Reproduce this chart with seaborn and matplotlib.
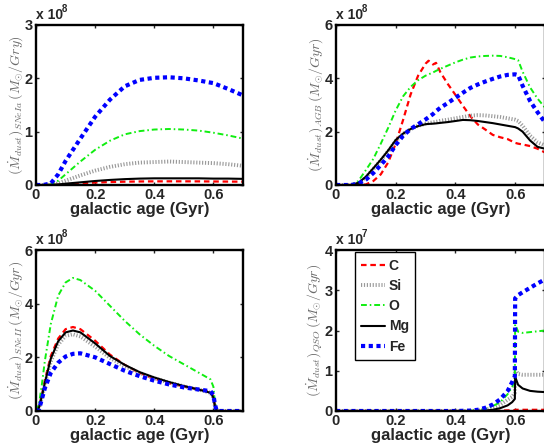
import numpy as np
import pandas as pd
import matplotlib
matplotlib.use("Agg")
import matplotlib.pyplot as plt
import seaborn as sns

sns.set_theme(style="ticks")
plt.rcParams.update({
    "font.family": ["Liberation Sans", "DejaVu Sans"],
    "font.weight": "bold",
    "mathtext.fontset": "cm",
    "xtick.direction": "in",
    "ytick.direction": "in",
    "xtick.top": True,
    "ytick.right": True,
    "axes.linewidth": 1.5,
})

# ---- data (values in units of the "x 10^n" multiplier) ----
elements = ["C", "Si", "O", "Mg", "Fe"]

# SNe Ia (x 1e8)
t_snia = [0, 0.025, 0.05, 0.075, 0.1, 0.15, 0.2, 0.25, 0.3, 0.35, 0.4, 0.45, 0.5, 0.55, 0.6, 0.65, 0.7]
snia_C = [0, 0, 0.001, 0.005, 0.015, 0.03, 0.045, 0.055, 0.062, 0.066, 0.068, 0.069, 0.069, 0.068, 0.066, 0.064, 0.062]
snia_Si = [0, 0, 0.005, 0.03, 0.08, 0.18, 0.27, 0.34, 0.39, 0.42, 0.43, 0.44, 0.43, 0.42, 0.41, 0.39, 0.36]
snia_O = [0, 0, 0.01, 0.08, 0.2, 0.44, 0.66, 0.83, 0.95, 1.01, 1.04, 1.05, 1.04, 1.02, 0.98, 0.93, 0.87]
snia_Mg = [0, 0, 0.002, 0.01, 0.025, 0.05, 0.075, 0.095, 0.11, 0.12, 0.125, 0.125, 0.125, 0.125, 0.12, 0.12, 0.115]
snia_Fe = [0, 0, 0.03, 0.2, 0.45, 0.87, 1.28, 1.6, 1.85, 1.97, 2.01, 2.02, 2.0, 1.96, 1.91, 1.8, 1.68]

# AGB (x 1e8)
t_agb = [0, 0.05, 0.075, 0.1, 0.125, 0.15, 0.175, 0.2, 0.225, 0.25, 0.275, 0.3, 0.31, 0.325, 0.335,
         0.35, 0.375, 0.4, 0.425, 0.45, 0.475, 0.5, 0.525, 0.55, 0.575, 0.6, 0.61, 0.625, 0.65, 0.675, 0.7]
agb_C = [0, 0, 0, 0.02, 0.15, 0.4, 0.85, 1.56, 2.45, 3.4, 4.1, 4.55, 4.66, 4.52, 4.58,
         4.22, 3.78, 3.38, 2.97, 2.58, 2.27, 2.08, 1.88, 1.79, 1.72, 1.58, 1.55, 1.52, 1.46, 1.36, 1.22]
agb_Si = [0, 0, 0.06, 0.28, 0.6, 0.92, 1.27, 1.65, 1.92, 2.1, 2.22, 2.3, 2.32, 2.35, 2.37,
          2.41, 2.45, 2.5, 2.55, 2.6, 2.62, 2.61, 2.58, 2.55, 2.5, 2.45, 2.4, 2.22, 1.85, 1.6, 1.48]
agb_O = [0, 0, 0.15, 0.56, 0.98, 1.55, 2.15, 2.8, 3.33, 3.68, 3.93, 4.1, 4.15, 4.22, 4.28,
         4.36, 4.48, 4.6, 4.7, 4.78, 4.82, 4.84, 4.85, 4.84, 4.79, 4.72, 4.68, 4.25, 3.66, 3.24, 2.9]
agb_Mg = [0, 0, 0.08, 0.31, 0.63, 0.95, 1.3, 1.69, 1.93, 2.1, 2.21, 2.28, 2.29, 2.3, 2.31,
          2.33, 2.36, 2.4, 2.44, 2.43, 2.4, 2.36, 2.32, 2.27, 2.22, 2.17, 2.12, 2.0, 1.67, 1.43, 1.36]
agb_Fe = [0, 0, 0.05, 0.2, 0.45, 0.75, 1.07, 1.5, 1.85, 2.1, 2.28, 2.46, 2.54, 2.66, 2.77,
          2.9, 3.08, 3.27, 3.46, 3.64, 3.77, 3.88, 3.98, 4.07, 4.13, 4.15, 4.12, 3.72, 3.15, 2.73, 2.35]

# SNe II (x 1e8)
t_snii = [0, 0.01, 0.02, 0.03, 0.05, 0.075, 0.1, 0.125, 0.15, 0.2, 0.25, 0.3, 0.35, 0.4,
          0.45, 0.5, 0.55, 0.59, 0.6, 0.605, 0.61, 0.62, 0.65, 0.7]
snii_C = [0, 0.15, 0.6, 1.15, 2.05, 2.7, 3.05, 3.13, 3.05, 2.62, 2.1, 1.72, 1.42, 1.2,
          1.03, 0.92, 0.8, 0.72, 0.55, 0.2, 0.02, 0, 0, 0]
snii_Si = [0, 0.1, 0.5, 0.98, 1.85, 2.48, 2.8, 2.86, 2.78, 2.4, 1.98, 1.67, 1.42, 1.22,
           1.06, 0.92, 0.8, 0.68, 0.5, 0.18, 0.02, 0, 0, 0]
snii_O = [0, 0.25, 1.0, 1.87, 3.24, 4.3, 4.79, 4.96, 4.88, 4.48, 3.92, 3.36, 2.86, 2.43,
          2.05, 1.74, 1.43, 1.18, 0.9, 0.3, 0.02, 0, 0, 0]
snii_Mg = [0, 0.12, 0.55, 1.05, 1.95, 2.6, 2.93, 3.0, 2.93, 2.52, 2.05, 1.72, 1.45, 1.25,
           1.08, 0.93, 0.8, 0.68, 0.5, 0.18, 0.02, 0, 0, 0]
snii_Fe = [0, 0.05, 0.45, 0.85, 1.42, 1.8, 2.03, 2.13, 2.15, 2.0, 1.75, 1.5, 1.3, 1.13,
           0.99, 0.88, 0.8, 0.74, 0.6, 0.25, 0.05, 0, 0, 0]

# QSO (x 1e7)
t_qso = [0, 0.1, 0.2, 0.3, 0.4, 0.45, 0.475, 0.5, 0.525, 0.55, 0.575, 0.59, 0.599, 0.6,
         0.61, 0.625, 0.65, 0.675, 0.7]
qso_C = [0, 0, 0, 0, 0, 0, 0, 0, 0.005, 0.01, 0.015, 0.02, 0.02, 0.03, 0.03, 0.03, 0.03, 0.03, 0.03]
qso_Si = [0, 0, 0, 0, 0, 0, 0.01, 0.03, 0.08, 0.15, 0.28, 0.35, 0.45, 1.02, 0.92, 0.9, 0.9, 0.9, 0.9]
qso_O = [0, 0, 0, 0, 0, 0.005, 0.02, 0.05, 0.12, 0.22, 0.42, 0.6, 0.75, 2.15, 1.97, 1.94, 1.96, 1.98, 2.0]
qso_Mg = [0, 0, 0, 0, 0, 0, 0, 0.01, 0.03, 0.07, 0.14, 0.22, 0.3, 0.85, 0.65, 0.56, 0.5, 0.48, 0.47]
qso_Fe = [0, 0, 0, 0, 0, 0.01, 0.03, 0.08, 0.16, 0.29, 0.5, 0.72, 0.86, 2.8, 2.88, 2.95, 3.06, 3.17, 3.27]

x_ticks = [0, 0.2, 0.4, 0.6]
x_ticklabels = ["0", "0.2", "0.4", "0.6"]

# ---- styles ----
styles = {
    "C":  dict(color="#ff0000", lw=1.6, ls=(0, (2.5, 1.7))),
    "Si": dict(color="#9a9a9a", lw=2.8, ls=(0, (0.3, 0.45))),
    "O":  dict(color="#10ee10", lw=1.4, ls=(0, (3, 1.5, 0.8, 1.5))),
    "Mg": dict(color="black",   lw=1.5, ls="-"),
    "Fe": dict(color="#0000ff", lw=3.0, ls=(0, (1, 0.85))),
}

panels = [
    dict(t=t_snia, ys=[snia_C, snia_Si, snia_O, snia_Mg, snia_Fe], ymax=3, yticks=[0, 1, 2, 3], exp=8,
         ylabel=r"$(\dot{M}_{dust})_{SNeIa}\,(M_{\odot}/Gry)$",
         rect=[36 / 544, 1 - 185 / 447, 207 / 544, 160 / 447]),
    dict(t=t_agb, ys=[agb_C, agb_Si, agb_O, agb_Mg, agb_Fe], ymax=6, yticks=[0, 2, 4, 6], exp=8,
         ylabel=r"$(\dot{M}_{dust})_{AGB}\,(M_{\odot}/Gyr)$",
         rect=[336 / 544, 1 - 185 / 447, 209 / 544, 160 / 447]),
    dict(t=t_snii, ys=[snii_C, snii_Si, snii_O, snii_Mg, snii_Fe], ymax=6, yticks=[0, 2, 4, 6], exp=8,
         ylabel=r"$(\dot{M}_{dust})_{SNeII}\,(M_{\odot}/Gyr)$",
         rect=[36 / 544, 1 - 411 / 447, 207 / 544, 161 / 447]),
    dict(t=t_qso, ys=[qso_C, qso_Si, qso_O, qso_Mg, qso_Fe], ymax=4, yticks=[0, 1, 2, 3, 4], exp=7,
         ylabel=r"$(\dot{M}_{dust})_{QSO}\,(M_{\odot}/Gyr)$",
         rect=[336 / 544, 1 - 411 / 447, 209 / 544, 161 / 447]),
]

fig = plt.figure(figsize=(5.44, 4.47), dpi=100)

for i, p in enumerate(panels):
    ax = fig.add_axes(p["rect"])
    for el, y in zip(elements, p["ys"]):
        st = styles[el]
        sns.lineplot(x=p["t"], y=y, ax=ax, color=st["color"], linewidth=st["lw"],
                     linestyle=st["ls"], label=el, errorbar=None, legend=False)
    ax.set_xlim(0, 0.7)
    ax.set_ylim(0, p["ymax"])
    ax.set_xticks(x_ticks)
    ax.set_xticklabels(x_ticklabels)
    ax.set_yticks(p["yticks"])
    ax.tick_params(axis="both", which="major", length=2.5, width=1, labelsize=10.5, pad=2.5)
    for lab in ax.get_xticklabels() + ax.get_yticklabels():
        lab.set_fontweight("bold")
    for sp in ax.spines.values():
        sp.set_color("black")
        sp.set_linewidth(1.7)

    ax.set_xlabel("galactic age (Gyr)", fontsize=12, fontweight="bold")
    ax.xaxis.set_label_coords(0.5, -0.105)
    ax.set_ylabel(p["ylabel"], fontsize=10, color="#6a6a6a")
    ax.yaxis.set_label_coords(-0.055, 0.5)

    ax.text(0.0, 1.035, "x 10", transform=ax.transAxes, fontsize=10,
            fontweight="bold", va="baseline", ha="left")
    ax.text(0.125, 1.08, str(p["exp"]), transform=ax.transAxes, fontsize=7,
            va="baseline", ha="left")

    if i == 3:
        leg = ax.legend(loc="upper left", bbox_to_anchor=(0.09, 0.985), borderaxespad=0,
                        prop=dict(weight="bold", size=10), handlelength=1.75,
                        handletextpad=0.25, labelspacing=0.45, borderpad=0.45,
                        fancybox=False, framealpha=1, edgecolor="black")
        leg.get_frame().set_linewidth(1.0)

fig.savefig("out.png", dpi=100)
